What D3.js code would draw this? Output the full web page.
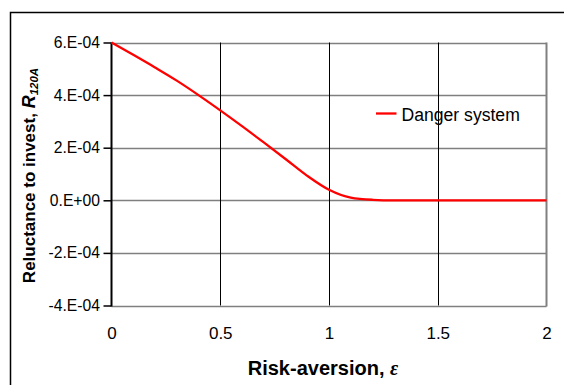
<!DOCTYPE html>
<html><head><meta charset="utf-8">
<script src="https://cdn.jsdelivr.net/npm/d3@7"></script>
<style>body{margin:0;background:#fff}svg{display:block}</style>
</head><body>
<script>
const epsilon = [0,0.1,0.2,0.3,0.4,0.5,0.6,0.7,0.8,0.9,1.0,1.1,1.2,1.3,1.4,1.6,1.8,2.0];
const danger = [6.0e-4,5.53e-4,5.05e-4,4.55e-4,4.0e-4,3.42e-4,2.82e-4,2.2e-4,1.57e-4,0.93e-4,0.4e-4,0.1e-4,0.02e-4,0,0,0,0,0];
const xTicks = [0,0.5,1,1.5,2];
const yTicks = [-4e-4,-2e-4,0,2e-4,4e-4,6e-4];
const yTickLabels = ["-4.E-04","-2.E-04","0.E+00","2.E-04","4.E-04","6.E-04"];
const seriesName = "Danger system";

const W=564,H=385;
const FONT="Arial, 'Liberation Sans', sans-serif";
const svg=d3.select("body").append("svg").attr("width",W).attr("height",H);
svg.append("rect").attr("x",10.5).attr("y",12.5).attr("width",W).attr("height",H).attr("fill","#fff").attr("stroke","#000").attr("stroke-width",1.5);

const L=111.5,R=546.5,T=42.5,B=305.5;
const x=d3.scaleLinear().domain([0,2]).range([L,R]);
const y=d3.scaleLinear().domain([-4e-4,6e-4]).range([B,T]);

const g=svg.append("g");
g.selectAll(".hg").data(yTicks).enter().append("line")
 .attr("x1",L).attr("x2",R).attr("y1",d=>Math.round(y(d))+0.5).attr("y2",d=>Math.round(y(d))+0.5)
 .attr("stroke","#7f7f7f").attr("stroke-width",1.3);
g.selectAll(".vg").data(xTicks.slice(1,-1)).enter().append("line")
 .attr("y1",T).attr("y2",B).attr("x1",d=>Math.round(x(d))+0.5).attr("x2",d=>Math.round(x(d))+0.5)
 .attr("stroke","#000").attr("stroke-width",1);
g.append("line").attr("x1",R).attr("x2",R).attr("y1",T).attr("y2",B+1).attr("stroke","#808080").attr("stroke-width",2);

const yAxis=d3.axisLeft(y).tickValues(yTicks).tickSize(9).tickFormat((d,i)=>yTickLabels[i]);
const ya=svg.append("g").attr("transform",`translate(${L},0)`).call(yAxis);
ya.select(".domain").attr("stroke","#000").attr("stroke-width",2).attr("d",`M0,${T}V${B+1}`);
ya.selectAll(".tick line").attr("stroke","#000").attr("stroke-width",1.5).attr("x2",-8);
ya.selectAll(".tick text").attr("font-family",FONT).attr("font-size",15.7).attr("fill","#000").attr("x",-11.5);

const xAxis=d3.axisBottom(x).tickValues(xTicks).tickSize(0).tickFormat(d3.format("~g"));
const xa=svg.append("g").attr("transform",`translate(0,${B})`).call(xAxis);
xa.select(".domain").remove();
xa.selectAll(".tick text").attr("font-family",FONT).attr("font-size",17).attr("fill","#000").attr("dy","0.71em").attr("y",21);

const line=d3.line().x((d,i)=>x(epsilon[i])).y(d=>y(d)).curve(d3.curveMonotoneX);
svg.append("path").datum(danger).attr("d",line).attr("fill","none").attr("stroke","#ff0000").attr("stroke-width",2.3);

svg.append("line").attr("x1",376).attr("x2",396.5).attr("y1",113.5).attr("y2",113.5).attr("stroke","#ff0000").attr("stroke-width",2.3);
svg.append("text").attr("x",401.5).attr("y",121).text(seriesName)
 .attr("font-family",FONT).attr("font-size",17.6).attr("fill","#000");

const xt=svg.append("text").attr("x",323).attr("y",375).attr("text-anchor","middle")
 .attr("font-family",FONT).attr("font-size",20).attr("font-weight","bold").attr("fill","#000");
xt.append("tspan").text("Risk-aversion, ");
xt.append("tspan").text("ε").attr("font-style","italic").attr("font-family","'Times New Roman','Liberation Serif',serif");

const yt=svg.append("text").attr("transform","translate(34.5,175.5) rotate(-90)").attr("text-anchor","middle")
 .attr("font-family",FONT).attr("font-size",17).attr("font-weight","bold").attr("fill","#000");
yt.append("tspan").text("Reluctance to invest, ");
yt.append("tspan").text("R").attr("font-style","italic").attr("font-size",18);
yt.append("tspan").text("120A").attr("font-style","italic").attr("font-size",11.5).attr("dy",3);
</script>
</body></html>
